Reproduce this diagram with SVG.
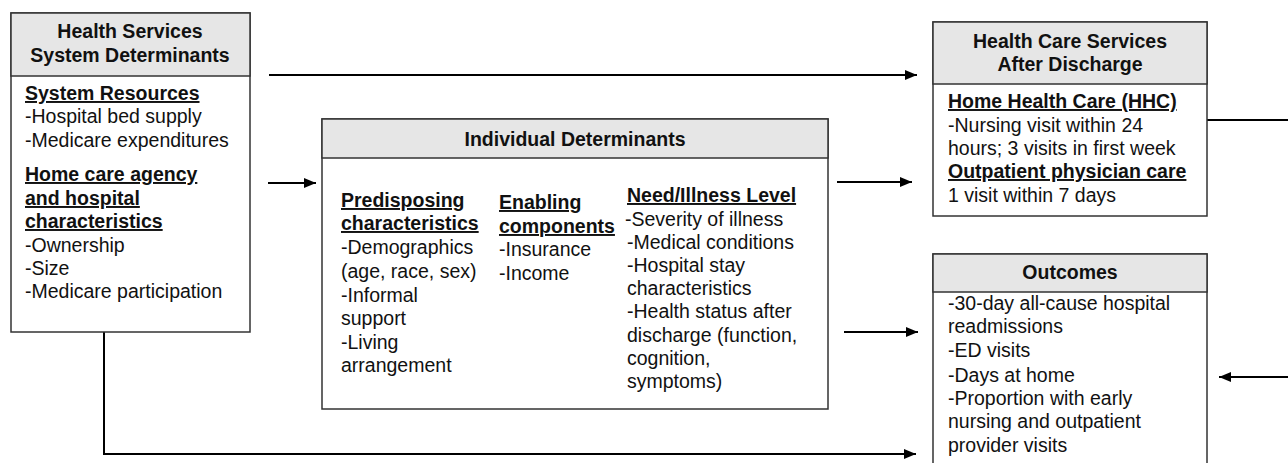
<svg xmlns="http://www.w3.org/2000/svg" width="1288" height="463" viewBox="0 0 1288 463">
<defs>
<marker id="ah" markerWidth="12" markerHeight="10" refX="12" refY="5" orient="auto" markerUnits="userSpaceOnUse">
<path d="M0,0 L12,5 L0,10 Z" fill="#000"/>
</marker>
<style>
.box{fill:#fff;stroke:#333;stroke-width:1.5}
.hdr{fill:#e6e6e6;stroke:#333;stroke-width:1.5}
text{font-family:"Liberation Sans",Arial,sans-serif;font-size:19.5px;fill:#111}
.b{font-weight:bold}
.u{font-weight:bold;text-decoration:underline}
.c{text-anchor:middle}
.con{fill:none;stroke:#000;stroke-width:2}
</style>
</defs>
<rect width="1288" height="463" fill="#fff"/>

<g id="connectors">
<line class="con" x1="269" y1="75" x2="917" y2="75" marker-end="url(#ah)"/>
<line class="con" x1="268" y1="183" x2="316" y2="183" marker-end="url(#ah)"/>
<line class="con" x1="837" y1="182" x2="912" y2="182" marker-end="url(#ah)"/>
<line class="con" x1="844" y1="332" x2="918" y2="332" marker-end="url(#ah)"/>
<polyline class="con" points="104,332 104,454 916,454" marker-end="url(#ah)"/>
<line class="con" x1="1207" y1="120" x2="1288" y2="120" stroke-width="1.5"/>
<line class="con" x1="1288" y1="377" x2="1219" y2="377" marker-end="url(#ah)"/>
</g>

<g id="health-services-system">
<rect class="box" x="11" y="13" width="239" height="319"/>
<rect class="hdr" x="11" y="13" width="239" height="63"/>
<text class="b c" x="130" y="38">Health Services</text>
<text class="b c" x="130" y="62">System Determinants</text>
<text class="u" x="25" y="100">System Resources</text>
<text x="25" y="123">-Hospital bed supply</text>
<text x="25" y="147">-Medicare expenditures</text>
<text class="u" x="25" y="181">Home care agency</text>
<text class="u" x="25" y="205">and hospital</text>
<text class="u" x="25" y="228">characteristics</text>
<text x="25" y="252">-Ownership</text>
<text x="25" y="275">-Size</text>
<text x="25" y="298">-Medicare participation</text>
</g>

<g id="individual-determinants">
<rect class="box" x="322" y="119" width="506" height="290"/>
<rect class="hdr" x="322" y="119" width="506" height="39"/>
<text class="b c" x="575" y="146">Individual Determinants</text>
<text class="u" x="341" y="207">Predisposing</text>
<text class="u" x="341" y="230">characteristics</text>
<text x="341" y="254">-Demographics</text>
<text x="341" y="278">(age, race, sex)</text>
<text x="341" y="302">-Informal</text>
<text x="341" y="325">support</text>
<text x="341" y="349">-Living</text>
<text x="341" y="372">arrangement</text>
<text class="u" x="499" y="209">Enabling</text>
<text class="u" x="499" y="233">components</text>
<text x="499" y="256">-Insurance</text>
<text x="499" y="280">-Income</text>
<text class="u" x="627" y="202">Need/Illness Level</text>
<text x="625" y="226">-Severity of illness</text>
<text x="627" y="249">-Medical conditions</text>
<text x="627" y="272">-Hospital stay</text>
<text x="627" y="295">characteristics</text>
<text x="627" y="318">-Health status after</text>
<text x="627" y="342">discharge (function,</text>
<text x="627" y="365">cognition,</text>
<text x="627" y="388">symptoms)</text>
</g>

<g id="health-care-after-discharge">
<rect class="box" x="933" y="22" width="274" height="194"/>
<rect class="hdr" x="933" y="22" width="274" height="62"/>
<text class="b c" x="1070" y="48">Health Care Services</text>
<text class="b c" x="1070" y="71">After Discharge</text>
<text class="u" x="948" y="108">Home Health Care (HHC)</text>
<text x="948" y="132">-Nursing visit within 24</text>
<text x="948" y="155">hours; 3 visits in first week</text>
<text class="u" x="948" y="178">Outpatient physician care</text>
<text x="948" y="202">1 visit within 7 days</text>
</g>

<g id="outcomes">
<rect class="box" x="933" y="254" width="274" height="220"/>
<rect class="hdr" x="933" y="254" width="274" height="38"/>
<text class="b c" x="1070" y="279">Outcomes</text>
<text x="948" y="310">-30-day all-cause hospital</text>
<text x="948" y="333">readmissions</text>
<text x="948" y="357">-ED visits</text>
<text x="948" y="382">-Days at home</text>
<text x="948" y="405">-Proportion with early</text>
<text x="948" y="428">nursing and outpatient</text>
<text x="948" y="452">provider visits</text>
</g>
</svg>
